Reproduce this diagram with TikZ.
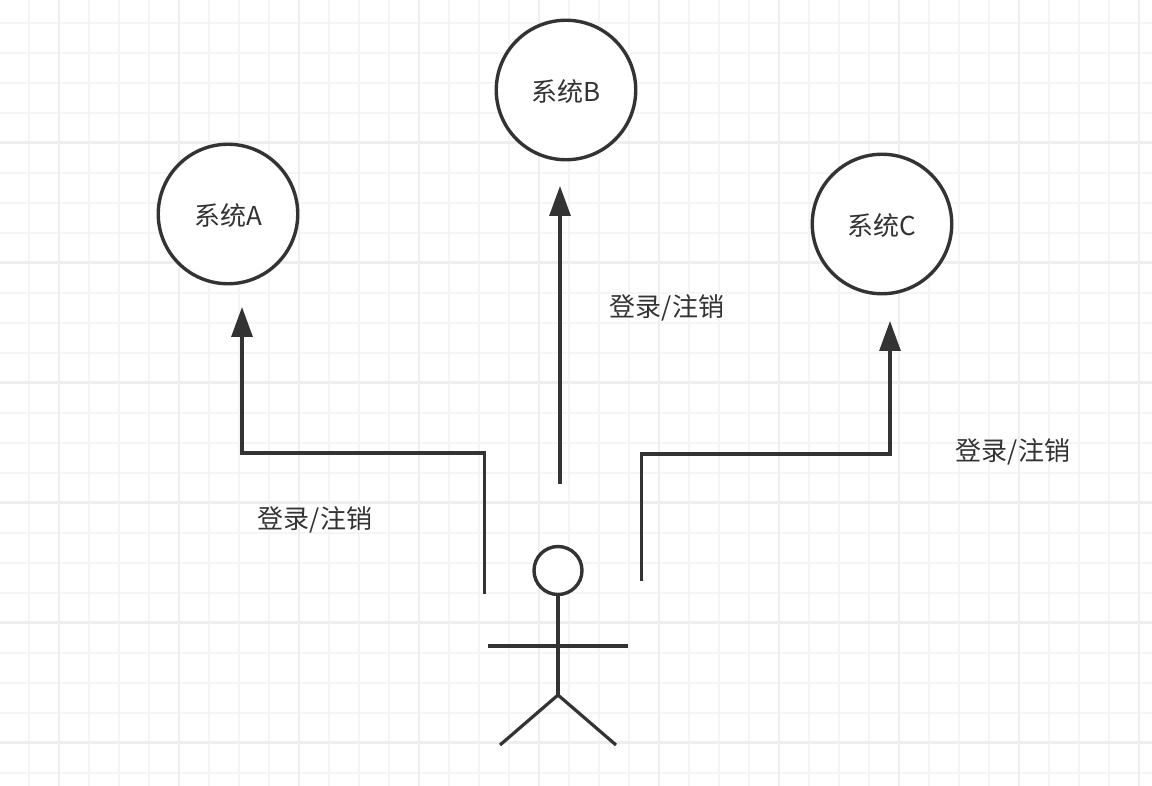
\documentclass[tikz,border=0pt]{standalone}
\usepackage{fontspec}
\setmainfont{Noto Sans CJK SC}
\usetikzlibrary{arrows.meta}
\definecolor{ink}{HTML}{333333}
\definecolor{gridminor}{HTML}{F5F5F6}
\definecolor{gridmajor}{HTML}{EEEEF0}
\tikzset{
  px/.style={x=1pt,y=-1pt},
  minorline/.style={draw=gridminor,line width=2pt},
  majorline/.style={draw=gridmajor,line width=2.6pt},
  sysnode/.style={circle,draw=ink,line width=3.4pt,fill=white,minimum size=139.5pt,inner sep=0pt,text=ink,text height=26pt,text depth=3pt,font=\fontsize{26}{30}\selectfont},
  headnode/.style={circle,draw=ink,line width=3.4pt,fill=white,minimum size=48pt,inner sep=0pt},
  labelnode/.style={inner sep=0pt,text=ink,font=\fontsize{26}{30}\selectfont},
  flow/.style={draw=ink,line width=3.2pt,-{Triangle[length=30pt,width=21pt,fill=ink]}},
  limb/.style={draw=ink,line width=3.2pt},
}
\begin{document}
\begin{tikzpicture}[px]
\useasboundingbox (0,0) rectangle (1152,786);
\fill[white] (0,0) rectangle (1152,786);
\foreach \x in {29,89,119,149,209,239,269,329,359,389,449,479,509,569,599,629,689,719,749,809,839,869,929,959,989,1049,1079,1109}
  \path[minorline] (\x,0) -- (\x,786);
\foreach \y in {22.7,52.7,82.7,112.7,172.7,202.7,232.7,292.7,322.7,352.7,412.7,442.7,472.7,532.7,562.7,592.7,652.7,682.7,712.7,772.7}
  \path[minorline] (0,\y) -- (1152,\y);
\foreach \x in {59,179,299,419,539,659,779,899,1019,1139}
  \path[majorline] (\x,0) -- (\x,786);
\foreach \y in {142.7,262.7,382.7,502.7,622.7,742.7}
  \path[majorline] (0,\y) -- (1152,\y);

\node[sysnode] (sysA) at (228,214) {系统A};
\node[sysnode] (sysB) at (566,90) {系统B};
\node[sysnode] (sysC) at (882,224) {系统C};

\coordinate (startA) at (484.5,594);
\coordinate (bendA1) at (484.5,453);
\coordinate (bendA2) at (242,453);
\coordinate (tipA) at (242,307);
\coordinate (startB) at (560,484);
\coordinate (tipB) at (560,186);
\coordinate (startC) at (641.5,581);
\coordinate (bendC1) at (641.5,454);
\coordinate (bendC2) at (890,454);
\coordinate (tipC) at (890,321);

\path[flow] (startA) -- (bendA1) -- (bendA2) -- (tipA);
\path[flow] (startB) -- (tipB);
\path[flow] (startC) -- (bendC1) -- (bendC2) -- (tipC);

\node[labelnode] (labA) at (315,520) {登录/注销};
\node[labelnode] (labB) at (667,308) {登录/注销};
\node[labelnode] (labC) at (1013,452) {登录/注销};

\node[headnode] (head) at (558,570.5) {};
\coordinate (hip) at (558,695);
\coordinate (armL) at (488,646);
\coordinate (armR) at (628,646);
\coordinate (legL) at (500,745);
\coordinate (legR) at (616,745);
\path[limb] (head) -- (hip);
\path[limb] (armL) -- (armR);
\path[limb] (legL) -- (hip) -- (legR);
\end{tikzpicture}
\end{document}
